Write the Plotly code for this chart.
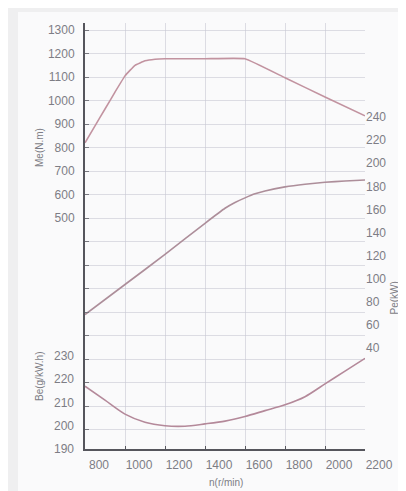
import plotly.graph_objects as go

# ---- data ----
rpm_torque = [800, 850, 900, 950, 1000, 1050, 1100, 1150, 1200, 1400, 1600, 1800, 2000, 2200]
torque = [820, 892, 964, 1036, 1105, 1150, 1169, 1176, 1178, 1178, 1178, 1097, 1015, 935]

rpm_power = [800, 1000, 1200, 1400, 1500, 1550, 1600, 1650, 1700, 1800, 1900, 2000, 2100, 2200]
power = [69, 95, 121, 148, 161, 166, 170, 173.5, 176, 179.5, 181.8, 183.5, 184.6, 185.5]

rpm_fuel = [800, 900, 1000, 1100, 1200, 1300, 1400, 1500, 1600, 1700, 1800, 1900, 2000, 2100, 2200]
fuel = [217, 211, 205, 201.5, 200, 199.8, 200.8, 202, 204, 206.5, 209, 212.5, 218, 223.5, 229]

x_ticks = [800, 1000, 1200, 1400, 1600, 1800, 2000, 2200]
torque_grid = list(range(-400, 1301, 100))
torque_ticktext = [str(v) if v >= 500 else "" for v in torque_grid]
power_ticks = [40, 60, 80, 100, 120, 140, 160, 180, 200, 220, 240]
fuel_ticks = [190, 200, 210, 220, 230]

W, H = 406, 491
L, R, T, B = 77, 49, 15, 50
pw, ph = W - L - R, H - T - B

def px(x):
    return (x - L) / pw

def py(y):
    return (H - B - y) / ph

text_col = "#7d7d85"
grid_col = "rgba(200,200,212,0.6)"
font = dict(family="Liberation Sans", size=12, color=text_col)

fig = go.Figure()
fig.add_trace(go.Scatter(x=rpm_torque, y=torque, mode="lines", yaxis="y",
                         line=dict(color="#c293a0", width=1.6, shape="spline", smoothing=0.3),
                         showlegend=False, hoverinfo="skip"))
fig.add_trace(go.Scatter(x=rpm_power, y=power, mode="lines", yaxis="y2",
                         line=dict(color="#ad8e9a", width=1.6, shape="spline", smoothing=0.4),
                         showlegend=False, hoverinfo="skip"))
fig.add_trace(go.Scatter(x=rpm_fuel, y=fuel, mode="lines", yaxis="y3",
                         line=dict(color="#b4899a", width=1.6, shape="spline", smoothing=0.8),
                         showlegend=False, hoverinfo="skip"))

fig.update_layout(
    width=W, height=H,
    margin=dict(l=L, r=R, t=T, b=B, pad=0),
    paper_bgcolor="#fafafb", plot_bgcolor="#fafafb",
    font=font,
    xaxis=dict(range=[800, 2200], tickvals=x_ticks, ticktext=[str(v) for v in x_ticks],
               showgrid=True, gridcolor=grid_col, gridwidth=1,
               showline=True, linecolor="#55555c", linewidth=2,
               ticks="inside", ticklen=3, tickcolor="#55555c",
               ticklabelshift=14, ticklabelstandoff=4, zeroline=False,
               tickfont=dict(family="Liberation Sans", size=12, color=text_col)),
    yaxis=dict(range=[-483, 1330], tickvals=torque_grid, ticktext=torque_ticktext,
               showgrid=True, gridcolor=grid_col, gridwidth=1,
               showline=True, linecolor="#55555c", linewidth=2,
               ticks="inside", ticklen=4, tickcolor="#77777e",
               ticklabelstandoff=6, zeroline=False,
               tickfont=dict(family="Liberation Sans", size=12, color=text_col)),
    yaxis2=dict(range=[-47.4, 321.4], tickvals=power_ticks,
                overlaying="y", side="right", anchor="x",
                showgrid=False, showline=False, ticks="", zeroline=False,
                ticklabelstandoff=0,
                tickfont=dict(family="Liberation Sans", size=12, color=text_col)),
    yaxis3=dict(range=[190, 373.2], tickvals=fuel_ticks,
                overlaying="y", side="left", anchor="x",
                showgrid=False, showline=False, ticks="", zeroline=False,
                ticklabelstandoff=10,
                tickfont=dict(family="Liberation Sans", size=12, color=text_col)),
    shapes=[
        dict(type="rect", xref="paper", yref="paper",
             x0=px(-5), x1=px(10), y0=py(H + 5), y1=py(-5),
             fillcolor="#efeff0", line=dict(width=0), layer="below"),
        dict(type="rect", xref="paper", yref="paper",
             x0=px(-5), x1=px(W + 5), y0=py(4), y1=py(-5),
             fillcolor="#efeff0", line=dict(width=0), layer="below"),
    ],
    annotations=[
        dict(text="Me(N.m)", x=px(24), y=py(118), xref="paper", yref="paper",
             textangle=-90, showarrow=False, font=dict(size=10, color=text_col)),
        dict(text="Be(g/kW.h)", x=px(24), y=py(395), xref="paper", yref="paper",
             textangle=-90, showarrow=False, font=dict(size=10, color=text_col)),
        dict(text="Pe(kW)", x=px(393), y=py(290), xref="paper", yref="paper",
             textangle=-90, showarrow=False, font=dict(size=10, color=text_col)),
        dict(text="n(r/min)", x=px(218), y=py(482), xref="paper", yref="paper",
             showarrow=False, font=dict(size=10, color=text_col)),
    ],
)

fig.write_html("out.html")
